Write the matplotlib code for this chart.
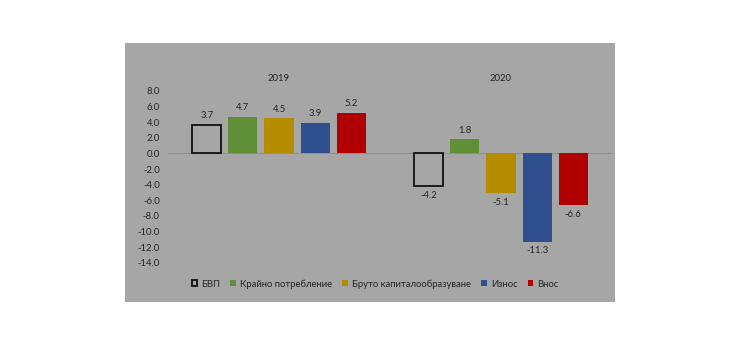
import matplotlib
matplotlib.use("Agg")
import matplotlib.pyplot as plt
import numpy as np
from matplotlib.patches import Patch

years = ["2019", "2020"]
series = ["БВП", "Крайно потребление", "Бруто капиталообразуване", "Износ", "Внос"]
values = {
    "БВП": [3.7, -4.2],
    "Крайно потребление": [4.7, 1.8],
    "Бруто капиталообразуване": [4.5, -5.1],
    "Износ": [3.9, -11.3],
    "Внос": [5.2, -6.6],
}
yticks = [8, 6, 4, 2, 0, -2, -4, -6, -8, -10, -12, -14]

bg = "#a6a6a6"
colors = {
    "БВП": "none",
    "Крайно потребление": "#5f8f37",
    "Бруто капиталообразуване": "#b58b00",
    "Износ": "#2f4f8f",
    "Внос": "#b00000",
}
txt = "#262626"
fs = 6.8

plt.rcParams['font.family'] = ['Lato', 'DejaVu Sans']
fig = plt.figure(figsize=(7.4, 3.45), dpi=100)
fig.patch.set_facecolor("white")
# gray chart panel
panel = fig.add_axes([125/740, 1-302/345, (615-125)/740, (302-43)/345])
panel.set_facecolor(bg)
panel.set_xticks([]); panel.set_yticks([])
for s in panel.spines.values():
    s.set_visible(False)
panel.set_zorder(0)

ax = fig.add_axes([168/740, 1-262.7/345, (612-168)/740, (262.7-91)/345])
ax.set_zorder(1)
ax.patch.set_alpha(0)
ax.set_xlim(-0.5, 1.5)
ax.set_ylim(-14, 8)

x = np.arange(len(years))
step = 0.1625
width = 0.131
for i, name in enumerate(series):
    off = (i - 2) * step
    vals = values[name]
    if name == "БВП":
        ax.bar(x + off, vals, width, facecolor="none", edgecolor="#111111", linewidth=1.3, zorder=3)
    else:
        ax.bar(x + off, vals, width, color=colors[name], edgecolor="none", zorder=3)
    for xi, v in zip(x, vals):
        if v >= 0:
            ax.text(xi + off, v + 0.6, f"{v:.1f}", ha="center", va="bottom", fontsize=fs, color=txt)
        else:
            ax.text(xi + off, v - 0.6, f"{v:.1f}", ha="center", va="top", fontsize=fs, color=txt)

ax.axhline(0, color="#8f8f8f", linewidth=0.8, zorder=2)
ax.set_yticks(yticks)
ax.set_yticklabels([f"{t:.1f}" for t in yticks], fontsize=fs, color=txt)
ax.tick_params(axis="y", length=0, pad=6)
ax.set_xticks([])
for s in ax.spines.values():
    s.set_visible(False)

for xi, yr in zip(x, years):
    ax.text(xi, 9.6, yr, ha="center", va="center", fontsize=fs, color=txt)

handles = []
for name in series:
    if name == "БВП":
        handles.append(Patch(facecolor="none", edgecolor="#111111", linewidth=1.3, label=name))
    else:
        handles.append(Patch(facecolor=colors[name], edgecolor="none", label=name))
fig.legend(handles=handles, loc="center", bbox_to_anchor=(375/740, 1-284/345), ncol=5,
           frameon=False, fontsize=fs, handlelength=0.6, handleheight=0.6,
           handletextpad=0.4, columnspacing=1.1, labelcolor=txt)

fig.savefig("out.png", dpi=100, facecolor="white")
